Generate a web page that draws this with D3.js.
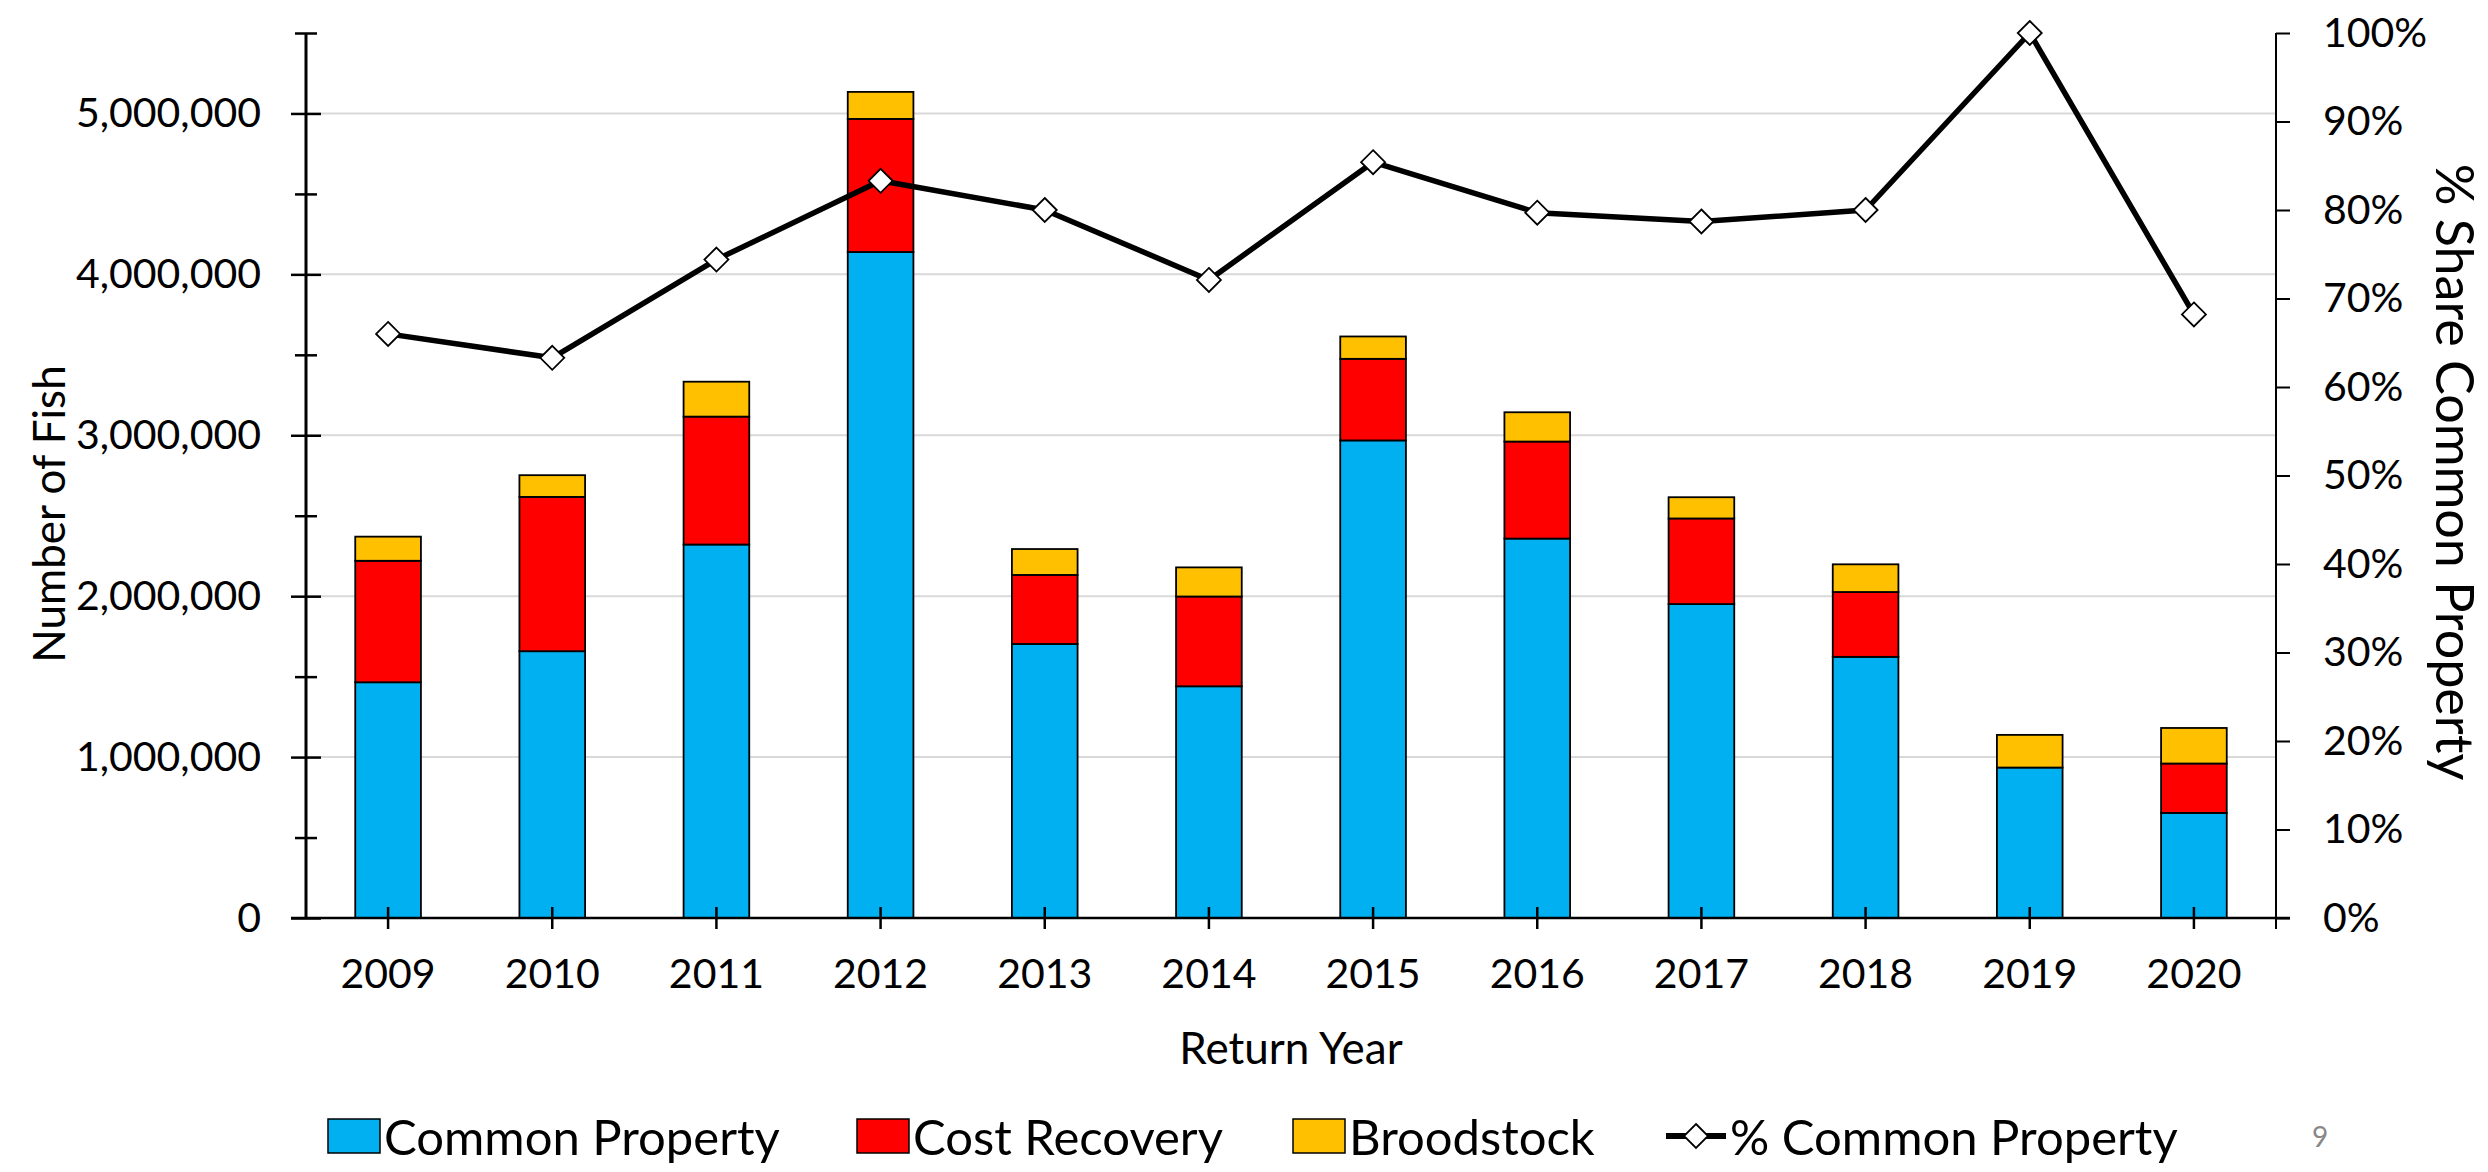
<!DOCTYPE html>
<html>
<head>
<meta charset="utf-8">
<script src="https://cdn.jsdelivr.net/npm/d3@7/dist/d3.min.js"></script>
<style>
  html, body { margin: 0; padding: 0; background: #fff; }
  svg { display: block; font-family: Lato, "Open Sans", sans-serif; }
</style>
</head>
<body>
<svg id="chart" width="2488" height="1172"></svg>
<script>
// ---- data ----
const years = ["2009","2010","2011","2012","2013","2014","2015","2016","2017","2018","2019","2020"];
const commonProperty = [1465000,1658000,2321000,4139000,1703000,1440000,2968000,2358000,1951000,1623000,935000,653000];
const costRecovery   = [755000,959000,795000,827000,429000,558000,507000,603000,532000,403000,0,307000];
const broodstock     = [150000,135000,217000,168000,161000,181000,139000,182000,132000,172000,203000,221000];
const pctCommon      = [0.660,0.633,0.744,0.833,0.800,0.721,0.854,0.797,0.787,0.800,1.000,0.682];
const seriesNames = ["Common Property","Cost Recovery","Broodstock"];
const seriesColors = ["#00B0F0","#FF0000","#FFC000"];
const lineName = "% Common Property";
const leftTicks = [0,1000000,2000000,3000000,4000000,5000000];
const minorTicks = [500000,1500000,2500000,3500000,4500000,5500000];
const rightTicks = [0,0.1,0.2,0.3,0.4,0.5,0.6,0.7,0.8,0.9,1.0];

// ---- layout ----
const svg = d3.select("#chart");
const L = 306, R = 2276, T = 33, B = 918;
const fontTick = 41, fontTitle = 44, fontLegend = 49;

const x = d3.scaleBand().domain(years).range([L, R]).padding(0);
const y = d3.scaleLinear().domain([0, 5500000]).range([B, T]);
const yp = d3.scaleLinear().domain([0, 1]).range([B, T]);
const barW = x.bandwidth() * 0.40;

// gridlines
svg.append("g").selectAll("line").data(leftTicks.filter(d => d > 0)).join("line")
  .attr("x1", L).attr("x2", R)
  .attr("y1", d => y(d)).attr("y2", d => y(d))
  .attr("stroke", "#d9d9d9").attr("stroke-width", 2);

// stacked bars
const rows = years.map((yr, i) => ({year: yr, cp: commonProperty[i], cr: costRecovery[i], bs: broodstock[i]}));
const stack = d3.stack().keys(["cp","cr","bs"])(rows);
svg.append("g").selectAll("g").data(stack).join("g")
  .attr("fill", (d, i) => seriesColors[i])
  .selectAll("rect").data(d => d).join("rect")
  .attr("x", d => x(d.data.year) + x.bandwidth()/2 - barW/2)
  .attr("y", d => y(d[1]))
  .attr("width", barW)
  .attr("height", d => Math.max(0, y(d[0]) - y(d[1])))
  .attr("stroke", d => (d[1] - d[0]) > 0 ? "#000" : "none")
  .attr("stroke-width", 1.8);

// left axis major
const gL = svg.append("g").attr("transform", `translate(${L},0)`)
  .call(d3.axisLeft(y).tickValues(leftTicks).tickFormat(d3.format(",")).tickSize(15).tickPadding(30));
gL.select(".domain").remove();
gL.selectAll(".tick line").attr("x1", -15).attr("x2", 15).attr("stroke", "#000").attr("stroke-width", 2.5);
gL.selectAll(".tick text").attr("font-size", fontTick).attr("font-family", "Lato").attr("fill", "#000");
// left axis minor
const gLm = svg.append("g").attr("transform", `translate(${L},0)`)
  .call(d3.axisLeft(y).tickValues(minorTicks).tickFormat("").tickSize(11));
gLm.select(".domain").remove();
gLm.selectAll(".tick line").attr("x1", -11).attr("x2", 11).attr("stroke", "#000").attr("stroke-width", 2.5);
svg.append("line").attr("x1", L).attr("x2", L).attr("y1", y(5500000)).attr("y2", B)
  .attr("stroke", "#000").attr("stroke-width", 3);

// bottom axis
const gB = svg.append("g").attr("transform", `translate(0,${B})`)
  .call(d3.axisBottom(x).tickSize(11).tickPadding(30));
gB.select(".domain").remove();
gB.selectAll(".tick line").attr("y1", -11).attr("y2", 11).attr("stroke", "#000").attr("stroke-width", 2.5);
gB.selectAll(".tick text").attr("font-size", fontTick).attr("font-family", "Lato").attr("fill", "#000");
svg.append("line").attr("x1", L - 15).attr("x2", R + 14).attr("y1", B).attr("y2", B)
  .attr("stroke", "#000").attr("stroke-width", 2.5);

// right axis
const gR = svg.append("g").attr("transform", `translate(${R},0)`)
  .call(d3.axisRight(yp).tickValues(rightTicks).tickFormat(d3.format(".0%")).tickSize(14).tickPadding(33));
gR.select(".domain").remove();
gR.selectAll(".tick line").attr("stroke", "#000").attr("stroke-width", 2);
gR.selectAll(".tick text").attr("font-size", fontTick).attr("font-family", "Lato").attr("fill", "#000");
svg.append("line").attr("x1", R).attr("x2", R).attr("y1", T).attr("y2", B + 11)
  .attr("stroke", "#000").attr("stroke-width", 2);

// line series
const lineGen = d3.line().x((d, i) => x(years[i]) + x.bandwidth()/2).y(d => yp(d));
svg.append("path").datum(pctCommon).attr("d", lineGen)
  .attr("fill", "none").attr("stroke", "#000").attr("stroke-width", 5.5).attr("stroke-linejoin", "round");
const diamond = s => `M0,${-s}L${s},0L0,${s}L${-s},0Z`;
svg.append("g").selectAll("path").data(pctCommon).join("path")
  .attr("transform", (d, i) => `translate(${x(years[i]) + x.bandwidth()/2},${yp(d)})`)
  .attr("d", diamond(12))
  .attr("fill", "#fff").attr("stroke", "#000").attr("stroke-width", 1.8);

// axis titles
svg.append("text").attr("transform", "translate(48,514) rotate(-90)")
  .attr("text-anchor", "middle").attr("dominant-baseline", "central")
  .attr("font-size", fontTitle).text("Number of Fish");
svg.append("text").attr("transform", "translate(2456,472) rotate(90)")
  .attr("text-anchor", "middle").attr("dominant-baseline", "central")
  .attr("font-size", 52).text("% Share Common Property");
svg.append("text").attr("x", (L + R)/2).attr("y", 1047)
  .attr("text-anchor", "middle").attr("dominant-baseline", "central")
  .attr("font-size", fontTitle).text("Return Year");

// legend
const legY = 1136;
const legX = [328, 857, 1293];
const lg = svg.append("g");
seriesNames.forEach((name, i) => {
  lg.append("rect").attr("x", legX[i]).attr("y", legY - 17).attr("width", 52).attr("height", 34)
    .attr("fill", seriesColors[i]).attr("stroke", "#000").attr("stroke-width", 1.5);
  lg.append("text").attr("x", legX[i] + 56).attr("y", legY).attr("dominant-baseline", "central")
    .attr("font-size", fontLegend).text(name);
});
lg.append("line").attr("x1", 1666).attr("x2", 1726).attr("y1", legY).attr("y2", legY)
  .attr("stroke", "#000").attr("stroke-width", 6);
lg.append("path").attr("transform", `translate(1696,${legY})`).attr("d", diamond(12))
  .attr("fill", "#fff").attr("stroke", "#000").attr("stroke-width", 1.8);
lg.append("text").attr("x", 1730).attr("y", legY).attr("dominant-baseline", "central")
  .attr("font-size", fontLegend).text(lineName);

// page number
svg.append("text").attr("x", 2320).attr("y", 1136).attr("text-anchor", "middle")
  .attr("dominant-baseline", "central").attr("font-size", 28).attr("fill", "#888").text("9");
</script>
</body>
</html>
